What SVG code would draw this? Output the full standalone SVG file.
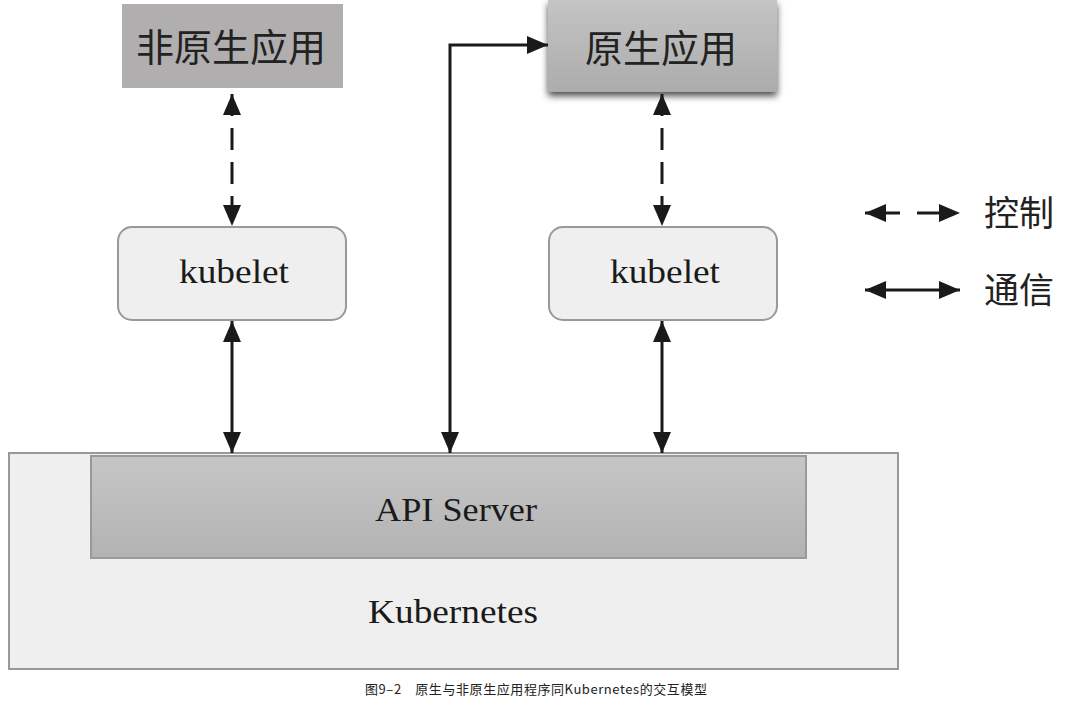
<svg xmlns="http://www.w3.org/2000/svg" width="1066" height="701" viewBox="0 0 1066 701">
<style>
.cjk{font-family:"Noto Sans CJK SC","Noto Sans",sans-serif;fill:#222;}
.lat{font-family:"Liberation Serif","DejaVu Serif",serif;fill:#1a1a1a;}
.ln{stroke:#1a1a1a;stroke-width:3;fill:none;}
.dash{stroke-dasharray:22 12;}
.kb{fill:#efefef;stroke:#999;stroke-width:2;}
</style>
<defs>
<marker id="ah" viewBox="0 0 21 18" refX="21" refY="9" markerWidth="21" markerHeight="18" markerUnits="userSpaceOnUse" orient="auto-start-reverse">
<path d="M0,0 L21,9 L0,18 Z" fill="#1a1a1a"/>
</marker>
<linearGradient id="gApi" x1="0" y1="0" x2="0" y2="1">
<stop offset="0" stop-color="#c6c6c6"/>
<stop offset="1" stop-color="#b2b2b2"/>
</linearGradient>
<linearGradient id="gNat" x1="0" y1="0" x2="0" y2="1">
<stop offset="0" stop-color="#c4c4c4"/>
<stop offset="1" stop-color="#acacac"/>
</linearGradient>
<filter id="sh" x="-10%" y="-20%" width="120%" height="150%">
<feDropShadow dx="0" dy="4" stdDeviation="3.5" flood-color="#000" flood-opacity="0.7"/>
</filter>
</defs>
<rect width="1066" height="701" fill="#fff"/>
<g id="kubernetes">
<rect x="9" y="453" width="889" height="216" fill="#efefef" stroke="#999" stroke-width="2"/>
<text class="lat" x="368" y="623" font-size="34" textLength="170" lengthAdjust="spacingAndGlyphs">Kubernetes</text>
</g>
<g id="api-server">
<rect x="91" y="456" width="715" height="102" fill="url(#gApi)" stroke="#999" stroke-width="2"/>
<text class="lat" x="375" y="521" font-size="34" textLength="162" lengthAdjust="spacingAndGlyphs">API Server</text>
</g>
<g id="non-native-app">
<rect x="122" y="4" width="221" height="84" fill="#b0aeae"/>
<text class="cjk" x="231" y="61" font-size="38" text-anchor="middle">非原生应用</text>
</g>
<g id="native-app">
<rect x="548" y="0" width="229" height="92" fill="url(#gNat)" filter="url(#sh)"/>
<text class="cjk" x="661" y="62" font-size="38" text-anchor="middle">原生应用</text>
</g>
<g id="kubelet-left">
<rect class="kb" x="118" y="227" width="228" height="93" rx="14"/>
<text class="lat" x="179" y="283" font-size="34" textLength="110" lengthAdjust="spacingAndGlyphs">kubelet</text>
</g>
<g id="kubelet-right">
<rect class="kb" x="549" y="227" width="228" height="93" rx="14"/>
<text class="lat" x="610" y="283" font-size="34" textLength="110" lengthAdjust="spacingAndGlyphs">kubelet</text>
</g>
<g id="connectors">
<line class="ln dash" x1="232" y1="94" x2="232" y2="226" marker-start="url(#ah)" marker-end="url(#ah)"/>
<line class="ln dash" x1="662" y1="94" x2="662" y2="226" marker-start="url(#ah)" marker-end="url(#ah)"/>
<line class="ln" x1="232" y1="321" x2="232" y2="453" marker-start="url(#ah)" marker-end="url(#ah)"/>
<line class="ln" x1="662" y1="321" x2="662" y2="453" marker-start="url(#ah)" marker-end="url(#ah)"/>
<path class="ln" d="M450,453 L450,45 L548,45" marker-start="url(#ah)" marker-end="url(#ah)"/>
</g>
<g id="legend">
<line class="ln" x1="865" y1="213" x2="960" y2="213" stroke-dasharray="35 17" marker-start="url(#ah)" marker-end="url(#ah)"/>
<text class="cjk" x="984" y="226" font-size="35">控制</text>
<line class="ln" x1="865" y1="290" x2="960" y2="290" marker-start="url(#ah)" marker-end="url(#ah)"/>
<text class="cjk" x="984" y="303" font-size="35">通信</text>
</g>
<text class="cjk" x="365" y="694" font-size="13" textLength="342" lengthAdjust="spacing">图9–2　原生与非原生应用程序同Kubernetes的交互模型</text>
</svg>
